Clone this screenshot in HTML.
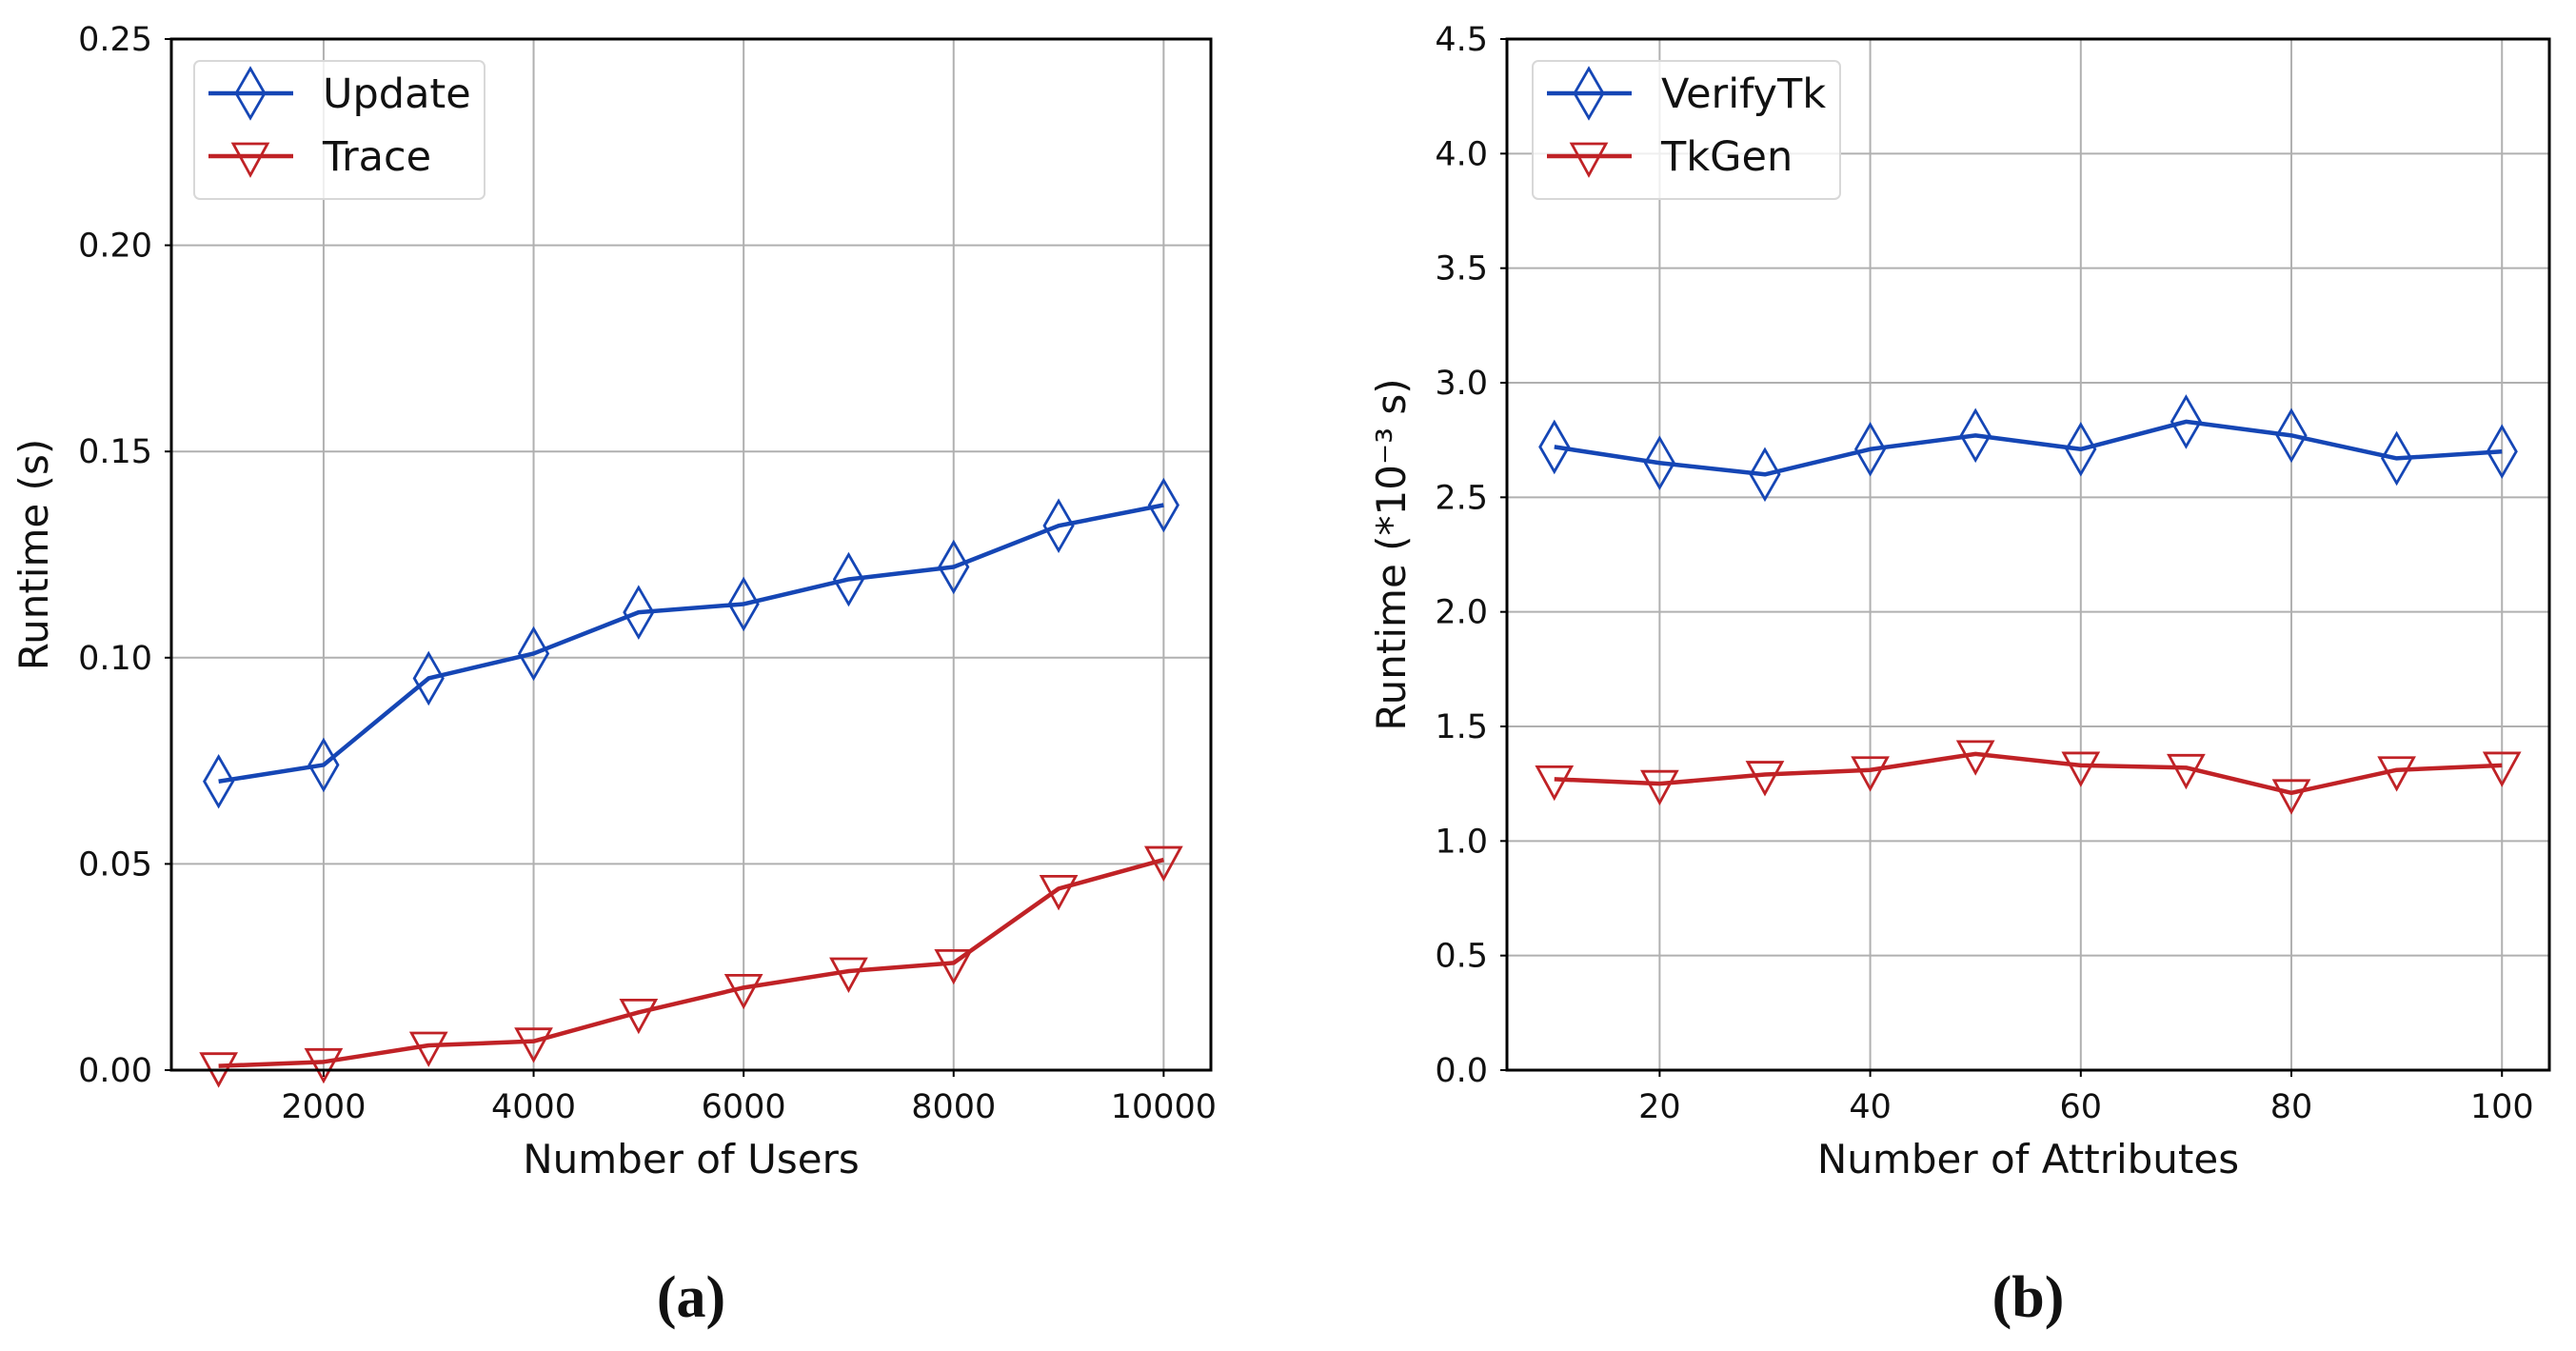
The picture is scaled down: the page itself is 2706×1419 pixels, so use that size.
<!DOCTYPE html>
<html><head><meta charset="utf-8"><style>
html,body{margin:0;padding:0;background:#fff;}
svg text{font-family:"DejaVu Sans","Liberation Sans",sans-serif;fill:#111;}
</style></head><body>
<svg id="fig" width="2706" height="1414" viewBox="0 0 2706 1414" xmlns="http://www.w3.org/2000/svg"></svg>
<script>
const xA = [1000,2000,3000,4000,5000,6000,7000,8000,9000,10000];
const updateVals = [0.070,0.074,0.095,0.101,0.111,0.113,0.119,0.122,0.132,0.137];
const traceVals = [0.001,0.002,0.006,0.007,0.014,0.020,0.024,0.026,0.044,0.051];
const xTicksA = [2000,4000,6000,8000,10000];
const yTicksA = ["0.00","0.05","0.10","0.15","0.20","0.25"];
const xB = [10,20,30,40,50,60,70,80,90,100];
const verifyVals = [2.72,2.65,2.60,2.71,2.77,2.71,2.83,2.77,2.67,2.70];
const tkgenVals = [1.27,1.25,1.29,1.31,1.38,1.33,1.32,1.21,1.31,1.33];
const xTicksB = [20,40,60,80,100];
const yTicksB = ["0.0","0.5","1.0","1.5","2.0","2.5","3.0","3.5","4.0","4.5"];

const NS="http://www.w3.org/2000/svg";
const svg=document.getElementById('fig');
function mk(tag,attrs,parent){const e=document.createElementNS(NS,tag);for(const k in attrs)e.setAttribute(k,attrs[k]);(parent||svg).appendChild(e);return e;}
const BLUE="#1546b5", RED="#c02226";

function panel(cfg){
  const g=mk('g',{});
  
  
  const L=cfg.left,R=cfg.right,T=41,B=1124;
  const sx=v=>L+(v-cfg.xmin)/(cfg.xmax-cfg.xmin)*(R-L);
  const sy=v=>B-(v-cfg.ymin)/(cfg.ymax-cfg.ymin)*(B-T);
  cfg.xticks.forEach(t=>{
    const l=mk('line',{x1:sx(t),x2:sx(t),y1:T,y2:B,stroke:'#b0b0b0','stroke-width':2},g);
    
    
    mk('line',{x1:sx(t),x2:sx(t),y1:B,y2:B+7,stroke:'#000','stroke-width':2},g);
    const tx=mk('text',{x:sx(t),y:B+50,'font-size':35,'text-anchor':'middle'},g);
    tx.textContent=t;
    
    
  });
  cfg.yticks.forEach(s=>{
    const v=parseFloat(s);
    const l=mk('line',{x1:L,x2:R,y1:sy(v),y2:sy(v),stroke:'#b0b0b0','stroke-width':2},g);
    
    
    mk('line',{x1:L-7,x2:L,y1:sy(v),y2:sy(v),stroke:'#000','stroke-width':2},g);
    const tx=mk('text',{x:L-20,y:sy(v)+12,'font-size':35,'text-anchor':'end'},g);
    tx.textContent=s;
    
    
  });
  cfg.series.forEach(s=>{
    const pts=cfg.xs.map((x,i)=>sx(x)+','+sy(s.vals[i])).join(' ');
    const pl=mk('polyline',{points:pts,fill:'none',stroke:s.color,'stroke-width':4.5,'stroke-linejoin':'round'},g);
    
    
    cfg.xs.forEach((x,i)=>{
      const m=marker(s.shape,sx(x),sy(s.vals[i]),s.color,g);
      
      
    });
  });
  const fr=mk('rect',{x:L,y:T,width:R-L,height:B-T,fill:'none',stroke:'#000','stroke-width':3},g);
  
  
  const lg=mk('g',{},g);
  
  
  mk('rect',{x:cfg.legX,y:64,width:cfg.legW,height:145,rx:6,fill:'rgba(255,255,255,0.8)',stroke:'#d8d8d8','stroke-width':2},lg);
  cfg.series.forEach((s,i)=>{
    const y=[98,164][i];
    const e=mk('g',{},lg);
    
    
    mk('line',{x1:cfg.legX+15,x2:cfg.legX+104,y1:y,y2:y,stroke:s.color,'stroke-width':4.5},e);
    marker(s.shape,cfg.legX+59,y,s.color,e);
    const t=mk('text',{x:cfg.legX+135,y:y+15,'font-size':43},e);
    t.textContent=s.label;
  });
  const xl=mk('text',{x:(L+R)/2,y:1232,'font-size':42,'text-anchor':'middle'},g);
  xl.textContent=cfg.xlabel;
  
  
  const yl=mk('text',{x:0,y:0,'font-size':42,'text-anchor':'middle',transform:`translate(${cfg.ylx},${(T+B)/2}) rotate(-90)`},g);
  yl.textContent=cfg.ylabel;
  
  
  const cap=mk('text',{x:(L+R)/2,y:1383,'font-size':62,'text-anchor':'middle','font-weight':'bold',style:'font-family:"Liberation Serif",serif'},g);
  cap.textContent=cfg.caption;
  
  
}
function marker(shape,x,y,color,parent){
  let p;
  if(shape==='diamond'){
    p=mk('polygon',{points:`${x},${y-26} ${x+15},${y} ${x},${y+26} ${x-15},${y}`,fill:'none',stroke:color,'stroke-width':2.8},parent);
  } else {
    p=mk('polygon',{points:`${x-18},${y-13} ${x+18},${y-13} ${x},${y+20}`,fill:'none',stroke:color,'stroke-width':2.8},parent);
  }
  return p;
}
panel({name:'panel-a',left:180,right:1272,xmin:550,xmax:10450,ymin:0,ymax:0.25,
  xs:xA,xticks:xTicksA,yticks:yTicksA,xlabel:'Number of Users',ylabel:'Runtime (s)',ylx:50,caption:'(a)',
  legX:204,legW:305,
  series:[{key:'update',label:'Update',vals:updateVals,color:BLUE,shape:'diamond'},
          {key:'trace',label:'Trace',vals:traceVals,color:RED,shape:'tri'}]});
panel({name:'panel-b',left:1583,right:2678,xmin:5.5,xmax:104.5,ymin:0,ymax:4.5,
  xs:xB,xticks:xTicksB,yticks:yTicksB,xlabel:'Number of Attributes',ylabel:'Runtime (*10⁻³ s)',ylx:1476,caption:'(b)',
  legX:1610,legW:323,
  series:[{key:'verifytk',label:'VerifyTk',vals:verifyVals,color:BLUE,shape:'diamond'},
          {key:'tkgen',label:'TkGen',vals:tkgenVals,color:RED,shape:'tri'}]});
</script>
</body></html>
